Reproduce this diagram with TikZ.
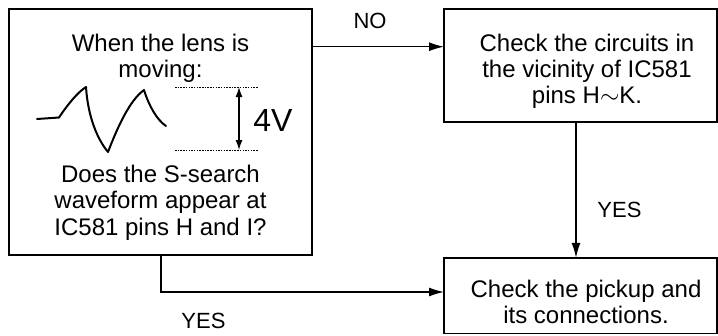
\documentclass[tikz,border=0pt]{standalone}
\usepackage{fontspec}
\setmainfont{Liberation Sans}
\usetikzlibrary{arrows.meta}
\begin{document}
\begin{tikzpicture}[x=1pt,y=-1pt,
  box/.style={draw, line width=1.5pt, inner sep=0pt, outer sep=0pt, anchor=north west},
  txt/.style={anchor=base, inner sep=0pt, font=\fontsize{24}{26.5}\selectfont},
  lbl/.style={anchor=base, inner sep=0pt, font=\fontsize{22}{24}\selectfont},
  conn/.style={line width=1.3pt},
  arr/.style={conn, -{Latex[length=15pt,width=9pt]}},
  dblarr/.style={line width=1.3pt, {Latex[length=10pt,width=7pt]}-{Latex[length=10pt,width=7pt]}},
  dotline/.style={line width=1pt, dash pattern=on 1.5pt off 1.2pt},
  wave/.style={line width=2pt, line join=round, line cap=round},
]
\useasboundingbox (0,0) rectangle (718,335);

% boxes
\node[box, minimum width=303pt, minimum height=246pt] (q) at (9,9) {};
\node[box, minimum width=272.8pt, minimum height=113pt] (a) at (444,9) {};
\node[box, minimum width=272.8pt, minimum height=75.5pt] (b) at (444,257.8) {};

% left box text
\node[txt] (q1) at (160.5,51) {When the lens is};
\node[txt] (q2) at (160.5,77.5) {moving:};
\node[txt] (q3) at (160.5,182) {Does the S-search};
\node[txt] (q4) at (160.5,208.5) {waveform appear at};
\node[txt] (q5) at (160.5,235) {IC581 pins H and I?};

% waveform
\draw[wave] (37,119) -- (59,117.5)
  .. controls (68,104) and (78,92) .. (86,87)
  .. controls (88,118) and (98,140) .. (108,152)
  .. controls (118,126) and (130,100) .. (144,90)
  .. controls (149,106) and (157,120) .. (166,126);

% amplitude marks
\coordinate (dt1) at (175,87);
\coordinate (dt2) at (258,87);
\coordinate (db1) at (175,150);
\coordinate (db2) at (258,150);
\coordinate (vt) at (239,87);
\coordinate (vb) at (239,150);
\draw[dotline] (dt1) -- (dt2);
\draw[dotline] (db1) -- (db2);
\draw[dblarr] (vt) -- (vb);
\node[anchor=base, inner sep=0pt, font=\fontsize{32}{34}\selectfont] (amp) at (273,131) {4V};

% right boxes text
\node[txt] (a1) at (587,51.5) {Check the circuits in};
\node[txt] (a2) at (587,77.5) {the vicinity of IC581};
\node[txt] (a3) at (587,103.5) {pins H$\sim$K.};
\node[txt] (b1) at (586,297) {Check the pickup and};
\node[txt] (b2) at (586,323.5) {its connections.};

% connectors
\coordinate (noy) at (0,46.7);
\draw[arr] (q.east |- noy) -- (a.west |- noy);
\coordinate (yesx) at (576,0);
\draw[arr] (a.south -| yesx) -- (b.north -| yesx);
\coordinate (botx) at (161,0);
\coordinate (boty) at (0,292);
\draw[arr] (q.south -| botx) -- (botx |- boty) -- (b.west |- boty);

% labels
\node[lbl] (lno) at (370,28) {NO};
\node[lbl] (lyes1) at (619.5,217) {YES};
\node[lbl] (lyes2) at (203.5,328) {YES};
\end{tikzpicture}
\end{document}
